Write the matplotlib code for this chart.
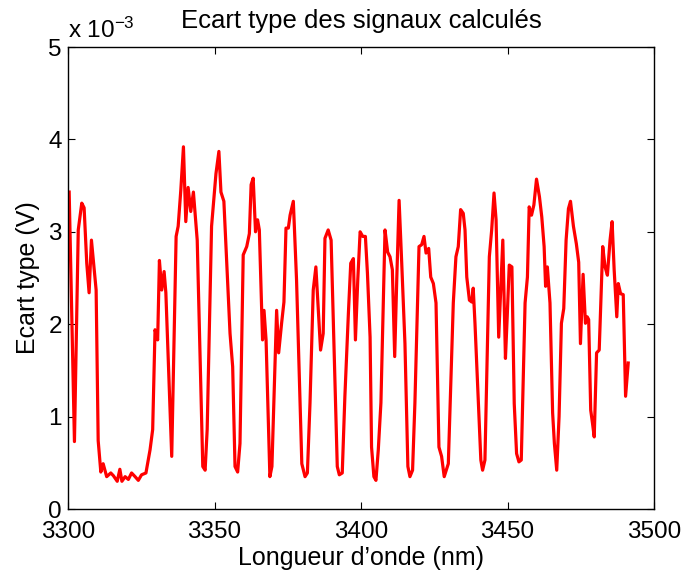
import matplotlib
matplotlib.use("Agg")
import matplotlib.pyplot as plt

plt.rcParams['font.family'] = ['Liberation Sans', 'DejaVu Sans']
plt.rcParams['mathtext.default'] = 'regular'

wavelength_nm = [
    3300.4, 3302.2, 3303.5, 3304.7, 3305.5, 3306.4, 3307.2, 3308.0, 3309.6, 3310.3,
    3311.2, 3312.0, 3313.2, 3314.6, 3315.5, 3316.8, 3317.7, 3318.4, 3319.5, 3320.6,
    3321.7, 3322.9, 3324.0, 3325.1, 3326.6, 3328.0, 3328.9, 3329.7, 3330.6, 3331.2,
    3332.0, 3332.8, 3333.4, 3335.4, 3336.9, 3337.6, 3338.5, 3339.4, 3340.2, 3341.0,
    3341.9, 3342.8, 3344.1, 3346.0, 3346.8, 3347.5, 3349.0, 3350.5, 3351.5, 3352.2,
    3353.2, 3355.3, 3356.2, 3357.0, 3357.9, 3358.7, 3359.8, 3361.0, 3361.9, 3362.5,
    3363.2, 3364.0, 3364.7, 3365.3, 3366.4, 3366.9, 3367.6, 3368.9, 3369.6, 3371.2,
    3371.9, 3372.9, 3373.7, 3374.4, 3375.2, 3375.8, 3376.9, 3378.0, 3379.8, 3380.9,
    3381.7, 3382.6, 3383.7, 3384.6, 3386.2, 3387.1, 3387.7, 3388.8, 3389.8, 3390.5,
    3391.9, 3392.6, 3393.6, 3394.5, 3395.7, 3396.5, 3397.4, 3398.1, 3398.9, 3399.7,
    3400.6, 3401.5, 3402.2, 3403.1, 3403.6, 3404.4, 3405.1, 3405.9, 3406.8, 3408.2,
    3409.1, 3409.9, 3410.7, 3411.5, 3412.2, 3413.0, 3413.9, 3415.0, 3416.0, 3416.7,
    3417.6, 3418.4, 3419.8, 3420.7, 3421.5, 3422.2, 3423.1, 3423.8, 3424.7, 3425.6,
    3426.6, 3427.5, 3428.4, 3429.8, 3431.5, 3432.4, 3433.2, 3434.0, 3434.9, 3435.5,
    3436.1, 3437.0, 3437.8, 3438.3, 3438.9, 3440.9, 3441.5, 3442.3, 3443.8, 3444.6,
    3445.4, 3446.1, 3447.0, 3448.4, 3449.3, 3449.9, 3450.6, 3451.5, 3452.3, 3453.1,
    3453.9, 3454.7, 3456.0, 3456.8, 3457.4, 3458.2, 3459.0, 3459.9, 3460.9, 3461.7,
    3462.5, 3463.0, 3463.6, 3464.5, 3465.4, 3466.0, 3466.8, 3467.6, 3468.4, 3469.2,
    3470.0, 3470.8, 3471.5, 3472.5, 3473.5, 3474.3, 3474.9, 3475.8, 3476.6, 3477.2,
    3477.7, 3478.4, 3479.0, 3479.6, 3480.4, 3481.3, 3482.5, 3483.3, 3484.1, 3485.0,
    3485.7, 3486.4, 3487.3, 3487.8, 3488.6, 3489.5, 3490.3, 3491.2,
]

ecart_type_e3 = [
    3.43, 0.73, 3.02, 3.31, 3.26, 2.66, 2.34, 2.91, 2.37, 0.74,
    0.40, 0.49, 0.35, 0.39, 0.36, 0.30, 0.43, 0.30, 0.35, 0.32,
    0.39, 0.35, 0.31, 0.37, 0.39, 0.64, 0.86, 1.94, 1.83, 2.69,
    2.37, 2.57, 2.34, 0.57, 2.95, 3.06, 3.45, 3.92, 3.11, 3.48,
    3.22, 3.43, 2.91, 0.46, 0.42, 0.86, 3.06, 3.63, 3.87, 3.43,
    3.33, 1.90, 1.54, 0.46, 0.40, 0.71, 2.75, 2.84, 2.98, 3.51,
    3.58, 3.00, 3.13, 3.02, 1.83, 2.15, 1.83, 0.35, 0.46, 2.15,
    1.69, 2.01, 2.24, 3.04, 3.04, 3.18, 3.33, 2.48, 0.49, 0.35,
    0.39, 1.15, 2.37, 2.62, 1.72, 1.90, 2.93, 3.02, 2.91, 2.08,
    0.46, 0.37, 0.39, 1.22, 2.12, 2.66, 2.71, 1.83, 2.48, 3.00,
    2.95, 2.95, 2.55, 1.86, 0.67, 0.35, 0.31, 0.64, 1.15, 3.02,
    2.78, 2.73, 2.59, 1.65, 2.48, 3.34, 2.66, 1.79, 0.46, 0.35,
    0.42, 1.15, 2.84, 2.86, 2.95, 2.77, 2.82, 2.51, 2.44, 2.23,
    0.67, 0.57, 0.35, 0.49, 2.23, 2.73, 2.84, 3.24, 3.20, 3.02,
    2.51, 2.26, 2.24, 2.39, 2.01, 0.53, 0.42, 0.53, 2.73, 3.02,
    3.42, 3.13, 1.86, 2.91, 1.63, 2.08, 2.64, 2.62, 1.14, 0.60,
    0.51, 0.53, 2.23, 2.51, 3.27, 3.18, 3.29, 3.57, 3.38, 3.16,
    2.84, 2.41, 2.62, 2.23, 1.04, 0.71, 0.42, 1.00, 2.01, 2.17,
    2.91, 3.25, 3.33, 3.06, 2.87, 2.67, 1.79, 2.54, 2.01, 2.08,
    2.05, 1.07, 0.93, 0.78, 1.69, 1.72, 2.84, 2.62, 2.53, 2.91,
    3.11, 2.59, 2.08, 2.44, 2.33, 2.32, 1.22, 1.58,
]

x_ticks = [3300, 3350, 3400, 3450, 3500]
y_ticks = [0, 1, 2, 3, 4, 5]

fig = plt.figure(figsize=(6.83, 5.72), dpi=100)
ax = fig.add_axes([68/683, 1 - 509/572, (654-68)/683, (509-47)/572])

ax.plot(wavelength_nm, ecart_type_e3, color=(1, 0, 0), linewidth=2.3)

ax.set_xlim(3300, 3500)
ax.set_ylim(0, 5)
ax.set_xticks(x_ticks)
ax.set_yticks(y_ticks)
ax.set_xticklabels([str(t) for t in x_ticks])
ax.set_yticklabels([str(t) for t in y_ticks])
ax.tick_params(direction='in', top=True, right=True, length=5, width=0.8,
               labelsize=17.5)
ax.tick_params(axis='x', pad=8.5)
ax.tick_params(axis='y', pad=4.5)
for s in ax.spines.values():
    s.set_linewidth(1.0)

ax.set_title('Ecart type des signaux calculés', fontsize=18.5, pad=14)
ax.set_xlabel('Longueur d’onde (nm)', fontsize=18, labelpad=2)
ax.set_ylabel('Ecart type (V)', fontsize=18, labelpad=6)
ax.text(0.0, 1.02, r'x 10$^{-3}$', transform=ax.transAxes, fontsize=17.5,
        ha='left', va='baseline')

fig.savefig('out.png', dpi=100)
